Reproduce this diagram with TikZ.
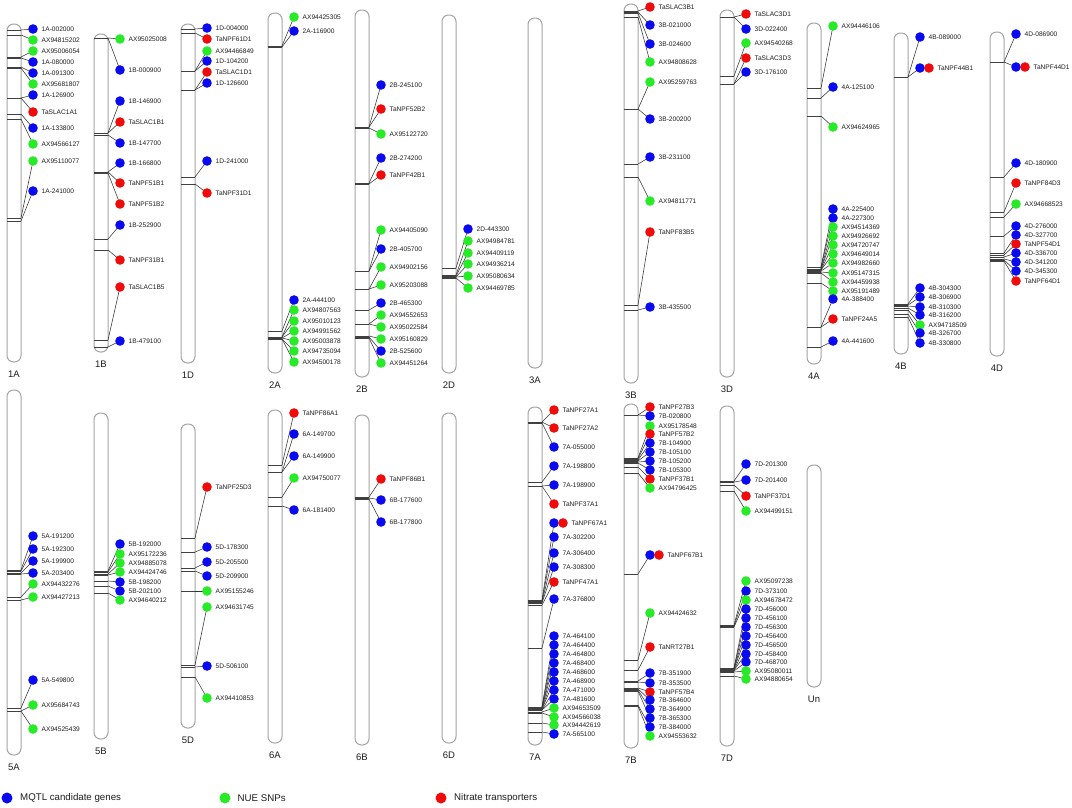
\documentclass[tikz,border=0pt]{standalone}
\usepackage{fontspec}
\setmainfont{Liberation Sans}
\definecolor{mblue}{RGB}{10,10,240}
\definecolor{mgreen}{RGB}{40,235,40}
\definecolor{mred}{RGB}{240,10,10}
\definecolor{chromgray}{RGB}{165,165,165}
\definecolor{txtgray}{RGB}{30,30,30}
\tikzset{
  chromo/.style={draw=chromgray, line width=1pt, fill=white, rounded corners=6.5pt, minimum width=14pt, inner sep=0pt},
  tickln/.style={draw=black!75, line width=0.5pt},
  conn/.style={draw=black!80, line width=0.55pt},
  dot/.style={circle, inner sep=0pt, minimum size=9.6pt},
  c1/.style={dot, fill=mblue},
  c2/.style={dot, fill=mgreen},
  c3/.style={dot, fill=mred},
  mlab/.style={anchor=west, font=\fontsize{6.6}{7}\selectfont, inner sep=0pt, text=txtgray},
  clab/.style={font=\fontsize{9.5}{10}\selectfont, inner sep=0pt, text=txtgray},
  leglab/.style={anchor=west, font=\fontsize{9.7}{11}\selectfont, inner sep=0pt, text=txtgray},
}
% empty chromosome: id, xleft, top, bottom, label
\newcommand\chromoempty[5]{%
  \pgfmathsetmacro\cx{#2+7}\pgfmathsetmacro\cy{(#3+#4)/2}\pgfmathsetmacro\chh{#4-#3}%
  \node[chromo, minimum height=\chh pt] (c#1) at (\cx,\cy) {};
  \node[clab] (n#1) at (\cx,#4+12) {#5};
}
% chromosome with markers: id, xleft, top, bottom, label, list tick/dot/colour/text
\newcommand\chromomk[6]{%
  \chromoempty{#1}{#2}{#3}{#4}{#5}%
  % pass 1: ticks and connectors
  \foreach \ty/\dy/\cl/\tx in {#6} {
    \coordinate (s-\tx) at (#2,\ty);
    \coordinate (t-\tx) at (#2+14,\ty);
    \coordinate (p-\tx) at (#2+26,\dy);
    \draw[tickln] (s-\tx) -- (t-\tx);
    \draw[conn] (t-\tx) -- (p-\tx);
  }
  % pass 2: dots and labels on top
  \foreach \ty/\dy/\cl/\tx in {#6} {
    \ifnum\cl=4
      \node[c1] (d-\tx) at (p-\tx) {};
      \node[c3] (e-\tx) at (#2+35,\dy) {};
      \node[mlab] (l-\tx) at (#2+43.5,\dy) {\tx};
    \else
      \node[c\cl] (d-\tx) at (p-\tx) {};
      \node[mlab] (l-\tx) at (#2+34.5,\dy) {\tx};
    \fi
  }
}
\begin{document}
\begin{tikzpicture}[x=1pt,y=-1pt]
\useasboundingbox (0,0) rectangle (1072,807);
\fill[white] (0,0) rectangle (1072,807);
% ---------------- top row ----------------
\chromomk{1A}{7}{24}{362}{1A}{30/29/1/1A-002000, 35/40/2/AX94815202, 57/51/2/AX95006054, 58/62/1/1A-080000, 67/73/1/1A-091300, 68/84/2/AX95681807, 98/95/1/1A-126900, 98/112/3/TaSLAC1A1, 114/128/1/1A-133800, 119/144/2/AX94566127, 218/161/2/AX95110077, 221/191/1/1A-241000}
\chromomk{1B}{94}{34}{352}{1B}{38/39/2/AX95025008, 38/70/1/1B-000900, 133/101/1/1B-146900, 133/122/3/TaSLAC1B1, 135/143/1/1B-147700, 172/163/1/1B-166800, 172/183/3/TaNPF51B1, 173/204/3/TaNPF51B2, 239/225/1/1B-252900, 250/260/3/TaNPF31B1, 340/287/3/TaSLAC1B5, 347/341/1/1B-479100}
\chromomk{1D}{181}{24}{363}{1D}{29/28/1/1D-004000, 33/39/3/TaNPF61D1, 71/51/2/AX94466849, 71/61/1/1D-104200, 90/72/3/TaSLAC1D1, 90/83/1/1D-126600, 177/161/1/1D-241000, 184/193/3/TaNPF31D1}
\chromomk{2A}{268}{13}{373}{2A}{46/17/2/AX94425305, 47/31/1/2A-116900, 331/300/1/2A-444100, 337/310/2/AX94807563, 337/321/2/AX95010123, 338/331/2/AX94991562, 338/341/2/AX95003878, 339/351/2/AX94735094, 339/362/2/AX94500178}
\chromomk{2B}{355}{10}{377}{2B}{127/85/1/2B-245100, 127/109/3/TaNPF52B2, 128/134/2/AX95122720, 183/158/1/2B-274200, 184/175/3/TaNPF42B1, 271/230/2/AX94405090, 271/249/1/2B-405700, 289/267/2/AX94902156, 289/285/2/AX95203088, 310/303/1/2B-465300, 324/315/2/AX94552653, 324/327/2/AX95022584, 336/339/2/AX95160829, 337/351/1/2B-525600, 338/363/2/AX94451264}
\chromomk{2D}{442}{15}{373}{2D}{268/229/1/2D-443300, 275/241/2/AX94984781, 276/253/2/AX94409119, 277/264/2/AX94936214, 277/276/2/AX95080634, 278/288/2/AX94469785}
\chromoempty{3A}{528}{18}{368}{3A}
\chromomk{3B}{624}{4}{383}{3B}{11/7/3/TaSLAC3B1, 12/25/1/3B-021000, 13/44/1/3B-024600, 17/62/2/AX94808628, 109/82/2/AX95259763, 109/119/1/3B-200200, 164/157/1/3B-231100, 177/201/2/AX94811771, 305/232/3/TaNPF83B5, 310/307/1/3B-435500}
\chromomk{3D}{720}{10}{377}{3D}{17/14/3/TaSLAC3D1, 17/29/1/3D-022400, 76/43/2/AX94540268, 84/58/3/TaSLAC3D3, 84/72/1/3D-176100}
\chromomk{4A}{807}{23}{364}{4A}{88/26/2/AX94446106, 98/87/1/4A-125100, 116/127/2/AX94624965, 267/209/1/4A-225400, 267/218/1/4A-227300, 269/227/2/AX94514369, 269/236/2/AX94926692, 270/245/2/AX94720747, 270/254/2/AX94649014, 271/263/2/AX94982660, 272/273/2/AX95147315, 273/282/2/AX94459938, 283/291/2/AX95191489, 327/299/1/4A-388400, 327/319/3/TaNPF24A5, 347/341/1/4A-441600}
\chromomk{4B}{894}{33}{354}{4B}{77/37/1/4B-089000, 77/68/4/TaNPF44B1, 304/288/1/4B-304300, 305/297/1/4B-306900, 306/307/1/4B-310300, 308/315/1/4B-316200, 310/325/2/AX94718509, 314/333/1/4B-326700, 317/343/1/4B-330800}
\chromomk{4D}{990}{32}{356}{4D}{62/34/1/4D-086900, 62/67/4/TaNPF44D1, 177/163/1/4D-180900, 212/183/3/TaNPF84D3, 217/204/2/AX94668523, 236/226/1/4D-276000, 253/235/1/4D-327700, 255/244/3/TaNPF54D1, 257/253/1/4D-336700, 259/262/1/4D-341200, 260/271/1/4D-345300, 261/281/3/TaNPF64D1}
% ---------------- bottom row ----------------
\chromomk{5A}{7}{390}{755}{5A}{570/536/1/5A-191200, 571/549/1/5A-192300, 573/561/1/5A-199900, 574/573/1/5A-203400, 597/584/2/AX94432276, 600/597/2/AX94427213, 708/680/1/5A-549800, 711/705/2/AX95684743, 711/729/2/AX94525439}
\chromomk{5B}{94}{413}{739}{5B}{571/544/1/5B-192000, 572/554/2/AX95172236, 574/563/2/AX94885078, 575/572/2/AX94424746, 581/582/1/5B-198200, 586/591/1/5B-202100, 593/600/2/AX94640212}
\chromomk{5D}{181}{424}{728}{5D}{538/487/3/TaNPF25D3, 552/547/1/5D-178300, 568/562/1/5D-205500, 571/576/1/5D-209900, 591/591/2/AX95155246, 665/607/2/AX94631745, 667/666/1/5D-506100, 677/698/2/AX94410853}
\chromomk{6A}{268}{410}{743}{6A}{465/413/3/TaNPF86A1, 472/434/1/6A-149700, 472/456/1/6A-149900, 497/478/2/AX94750077, 506/510/1/6A-181400}
\chromomk{6B}{355}{415}{745}{6B}{497/479/3/TaNPF86B1, 498/500/1/6B-177600, 499/522/1/6B-177800}
\chromoempty{6D}{442}{413}{743}{6D}
\chromomk{7A}{528}{407}{745}{7A}{422/410/3/TaNPF27A1, 422/428/3/TaNPF27A2, 423/447/1/7A-055000, 482/466/1/7A-198800, 486/485/1/7A-198900, 486/504/3/TaNPF37A1, 600/523/4/TaNPF67A1, 601/537/1/7A-302200, 602/553/1/7A-306400, 603/567/1/7A-308300, 605/582/3/TaNPF47A1, 648/599/1/7A-376800, 707/636/1/7A-464100, 707/645/1/7A-464400, 708/654/1/7A-464800, 708/663/1/7A-468400, 709/672/1/7A-468600, 709/681/1/7A-468900, 710/690/1/7A-471000, 710/699/1/7A-481600, 712/708/2/AX94653509, 713/717/2/AX94566038, 723/725/2/AX94442619, 732/734/1/7A-565100}
\chromomk{7B}{624}{404}{748}{7B}{415/407/3/TaNPF27B3, 415/416/1/7B-020800, 458/426/2/AX95178548, 459/434/3/TaNPF57B2, 460/443/1/7B-104900, 461/452/1/7B-105100, 462/461/1/7B-105200, 463/470/1/7B-105300, 467/479/3/TaNPF37B1, 473/488/2/AX94796425, 574/555/4/TaNPF67B1, 660/613/2/AX94424632, 670/647/3/TaNRT27B1, 681/673/1/7B-351900, 682/683/1/7B-353500, 688/692/3/TaNPF57B4, 689/700/1/7B-364600, 690/709/1/7B-364900, 691/718/1/7B-365300, 705/727/1/7B-384000, 706/736/2/AX94553632}
\chromomk{7D}{720}{406}{746}{7D}{481/464/1/7D-201300, 482/480/1/7D-201400, 485/496/3/TaNPF37D1, 491/511/2/AX94499151, 625/581/2/AX95097238, 626/591/1/7D-373100, 627/600/2/AX94678472, 668/609/1/7D-456000, 668/618/1/7D-456100, 669/627/1/7D-456300, 669/636/1/7D-456400, 670/645/1/7D-456500, 670/654/1/7D-458400, 671/662/1/7D-468700, 672/671/2/AX95080011, 676/679/2/AX94880654}
\chromoempty{Un}{807}{465}{687}{Un}
% ---------------- legend ----------------
\node[dot, minimum size=11pt, fill=mblue] (lg1) at (7,798) {};
\node[leglab] (lt1) at (20,798) {MQTL candidate genes};
\node[dot, minimum size=11pt, fill=mgreen] (lg2) at (225,798) {};
\node[leglab] (lt2) at (237.5,798) {NUE SNPs};
\node[dot, minimum size=11pt, fill=mred] (lg3) at (441,798) {};
\node[leglab] (lt3) at (454,798) {Nitrate transporters};
\end{tikzpicture}
\end{document}
